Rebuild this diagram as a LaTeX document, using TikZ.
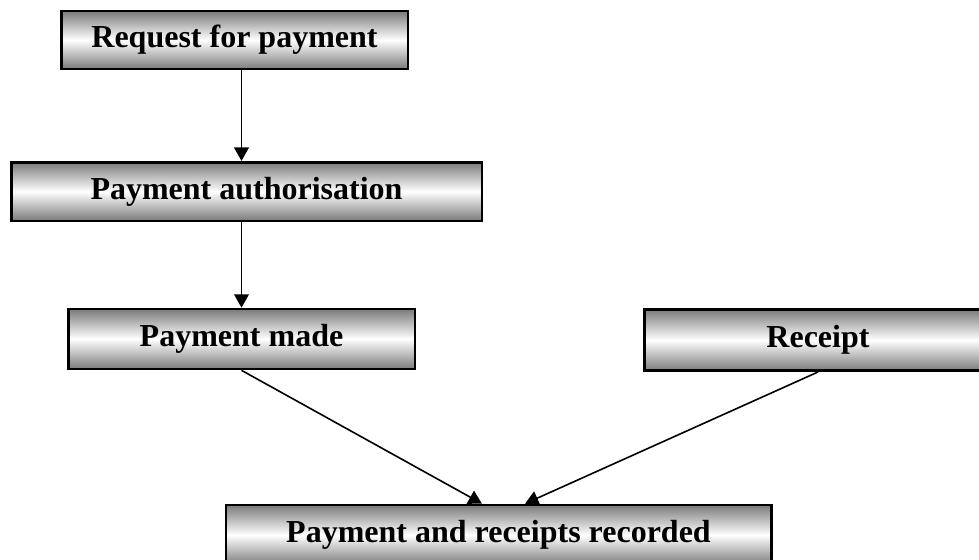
\documentclass[tikz,border=0pt]{standalone}
\usepackage{fontspec}
\setmainfont{Liberation Serif}
\usetikzlibrary{arrows.meta}

\tikzset{every picture/.style={line width=0.75pt}}
\tikzset{
  procbox/.style={draw=black, line width=2pt, top color=black!52, bottom color=black!52, middle color=white,
    inner sep=0pt, font=\fontsize{24}{28}\selectfont\bfseries},
  flow/.style={line width=1.2pt, -{Triangle[length=10pt,width=11pt]}}
}

\begin{document}
\begin{tikzpicture}[x=0.75pt,y=0.75pt,yscale=-1,xscale=1]
\useasboundingbox (0,0) rectangle (979,560);

% Boxes
\node [procbox, minimum width=260pt, minimum height=43.5pt] (req) at (234.5,40) {Request for payment};
\node [procbox, minimum width=353pt, minimum height=44pt] (auth) at (246.5,191.5) {Payment authorisation};
\node [procbox, minimum width=260pt, minimum height=45pt] (made) at (241.5,339) {Payment made};
\node [procbox, minimum width=260pt, minimum height=46pt] (rec) at (818,340) {Receipt};
\node [procbox, minimum width=409pt, minimum height=45pt] (rec all) at (498.5,535) {Payment and receipts recorded};

% Arrows
\draw [flow] (made.north |- req.south) -- (made.north |- auth.north);
\draw [flow] (made.north |- auth.south) -- (made.north);
\draw [flow] (made.south) -- ([xshift=-12.4pt]rec all.north);
\draw [flow] (rec.south) -- ([xshift=19.9pt]rec all.north);

\end{tikzpicture}
\end{document}
